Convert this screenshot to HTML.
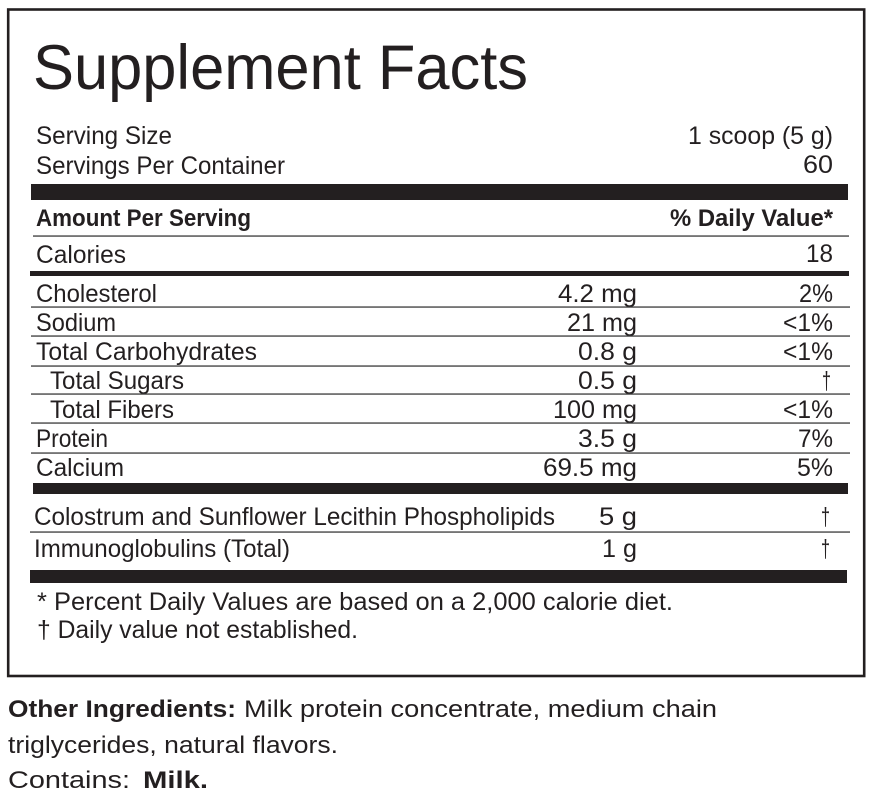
<!DOCTYPE html>
<html>
<head>
<meta charset="utf-8">
<style>
  html, body { margin: 0; padding: 0; background: #ffffff; }
  body { width: 874px; height: 799px; overflow: hidden; }
  svg { display: block; }
  text { font-family: "Liberation Sans", "DejaVu Sans", sans-serif; fill: #231f20; }
  .b { font-weight: bold; }
</style>
</head>
<body>
<svg width="874" height="799" viewBox="0 0 874 799" xmlns="http://www.w3.org/2000/svg">
  <rect x="0" y="0" width="874" height="799" fill="#ffffff"/>
  <!-- outer box -->
  <rect x="8.2" y="9.5" width="856" height="666.5" fill="none" stroke="#231f20" stroke-width="2.6"/>

  <!-- title -->
  <text x="33" y="89" font-size="63" textLength="495" lengthAdjust="spacingAndGlyphs">Supplement Facts</text>

  <!-- serving info -->
  <text x="36" y="144" font-size="25" textLength="136" lengthAdjust="spacingAndGlyphs">Serving Size</text>
  <text x="833" y="144" font-size="25" text-anchor="end" textLength="145" lengthAdjust="spacingAndGlyphs">1 scoop (5 g)</text>
  <text x="36" y="174" font-size="25" textLength="249" lengthAdjust="spacingAndGlyphs">Servings Per Container</text>
  <text x="833" y="173" font-size="25" text-anchor="end" textLength="30" lengthAdjust="spacingAndGlyphs">60</text>

  <!-- top bar -->
  <rect x="31" y="184" width="817" height="16" fill="#231f20"/>

  <text class="b" x="36" y="226" font-size="24" textLength="215" lengthAdjust="spacingAndGlyphs">Amount Per Serving</text>
  <text class="b" x="833" y="226" font-size="24" text-anchor="end" textLength="163" lengthAdjust="spacingAndGlyphs">% Daily Value*</text>

  <rect x="33" y="235.4" width="816" height="1.3" fill="#3a3a3a"/>

  <text x="36" y="263" font-size="25" textLength="90" lengthAdjust="spacingAndGlyphs">Calories</text>
  <text x="833" y="262" font-size="25" text-anchor="end" textLength="27" lengthAdjust="spacingAndGlyphs">18</text>

  <!-- calories bar -->
  <rect x="30" y="271" width="819" height="5" fill="#231f20"/>

  <!-- nutrient rows -->
  <text x="36" y="302" font-size="25" textLength="121" lengthAdjust="spacingAndGlyphs">Cholesterol</text>
  <text x="637" y="302" font-size="25" text-anchor="end" textLength="79" lengthAdjust="spacingAndGlyphs">4.2 mg</text>
  <text x="833" y="302" font-size="25" text-anchor="end" textLength="34" lengthAdjust="spacingAndGlyphs">2%</text>
  <rect x="31" y="306.4" width="819" height="1.3" fill="#3a3a3a"/>

  <text x="36" y="331" font-size="25" textLength="80" lengthAdjust="spacingAndGlyphs">Sodium</text>
  <text x="637" y="331" font-size="25" text-anchor="end" textLength="70" lengthAdjust="spacingAndGlyphs">21 mg</text>
  <text x="833" y="331" font-size="25" text-anchor="end" textLength="50" lengthAdjust="spacingAndGlyphs">&lt;1%</text>
  <rect x="31" y="335.4" width="819" height="1.3" fill="#3a3a3a"/>

  <text x="36" y="360" font-size="25" textLength="221" lengthAdjust="spacingAndGlyphs">Total Carbohydrates</text>
  <text x="637" y="360" font-size="25" text-anchor="end" textLength="59" lengthAdjust="spacingAndGlyphs">0.8 g</text>
  <text x="833" y="360" font-size="25" text-anchor="end" textLength="50" lengthAdjust="spacingAndGlyphs">&lt;1%</text>
  <rect x="31" y="365.4" width="819" height="1.3" fill="#3a3a3a"/>

  <text x="50" y="389" font-size="25" textLength="134" lengthAdjust="spacingAndGlyphs">Total Sugars</text>
  <text x="637" y="389" font-size="25" text-anchor="end" textLength="59" lengthAdjust="spacingAndGlyphs">0.5 g</text>
  <text x="831" y="389" font-size="25" text-anchor="end" textLength="9" lengthAdjust="spacingAndGlyphs">†</text>
  <rect x="31" y="393.4" width="819" height="1.3" fill="#3a3a3a"/>

  <text x="50" y="418" font-size="25" textLength="124" lengthAdjust="spacingAndGlyphs">Total Fibers</text>
  <text x="637" y="418" font-size="25" text-anchor="end" textLength="84" lengthAdjust="spacingAndGlyphs">100 mg</text>
  <text x="833" y="418" font-size="25" text-anchor="end" textLength="50" lengthAdjust="spacingAndGlyphs">&lt;1%</text>
  <rect x="31" y="422.4" width="819" height="1.3" fill="#3a3a3a"/>

  <text x="36" y="447" font-size="25" textLength="72" lengthAdjust="spacingAndGlyphs">Protein</text>
  <text x="637" y="447" font-size="25" text-anchor="end" textLength="59" lengthAdjust="spacingAndGlyphs">3.5 g</text>
  <text x="833" y="447" font-size="25" text-anchor="end" textLength="35" lengthAdjust="spacingAndGlyphs">7%</text>
  <rect x="31" y="452.4" width="819" height="1.3" fill="#3a3a3a"/>

  <text x="36" y="476" font-size="25" textLength="88" lengthAdjust="spacingAndGlyphs">Calcium</text>
  <text x="637" y="476" font-size="25" text-anchor="end" textLength="94" lengthAdjust="spacingAndGlyphs">69.5 mg</text>
  <text x="833" y="476" font-size="25" text-anchor="end" textLength="36" lengthAdjust="spacingAndGlyphs">5%</text>

  <!-- calcium bar -->
  <rect x="33" y="483" width="815" height="11" fill="#231f20"/>

  <text x="34" y="525" font-size="25" textLength="521" lengthAdjust="spacingAndGlyphs">Colostrum and Sunflower Lecithin Phospholipids</text>
  <text x="637" y="525" font-size="25" text-anchor="end" textLength="38" lengthAdjust="spacingAndGlyphs">5 g</text>
  <text x="830" y="525" font-size="25" text-anchor="end" textLength="9" lengthAdjust="spacingAndGlyphs">†</text>
  <rect x="30" y="531.4" width="820" height="1.3" fill="#3a3a3a"/>

  <text x="34" y="557" font-size="25" textLength="256" lengthAdjust="spacingAndGlyphs">Immunoglobulins (Total)</text>
  <text x="637" y="557" font-size="25" text-anchor="end" textLength="35" lengthAdjust="spacingAndGlyphs">1 g</text>
  <text x="830" y="557" font-size="25" text-anchor="end" textLength="9" lengthAdjust="spacingAndGlyphs">†</text>

  <!-- bottom bar -->
  <rect x="30" y="570" width="817" height="13" fill="#231f20"/>

  <!-- footnotes -->
  <text x="37" y="610" font-size="25" textLength="636" lengthAdjust="spacingAndGlyphs">* Percent Daily Values are based on a 2,000 calorie diet.</text>
  <text x="37" y="638" font-size="25" textLength="321" lengthAdjust="spacingAndGlyphs">† Daily value not established.</text>

  <!-- other ingredients -->
  <text class="b" x="8" y="717" font-size="24" textLength="228" lengthAdjust="spacingAndGlyphs">Other Ingredients:</text>
  <text x="244" y="717" font-size="24" textLength="473" lengthAdjust="spacingAndGlyphs">Milk protein concentrate, medium chain</text>
  <text x="8" y="753" font-size="24" textLength="330" lengthAdjust="spacingAndGlyphs">triglycerides, natural flavors.</text>
  <text x="8" y="788" font-size="24" textLength="122" lengthAdjust="spacingAndGlyphs">Contains:</text>
  <text class="b" x="143" y="788" font-size="24" textLength="65" lengthAdjust="spacingAndGlyphs">Milk.</text>
</svg>
</body>
</html>
